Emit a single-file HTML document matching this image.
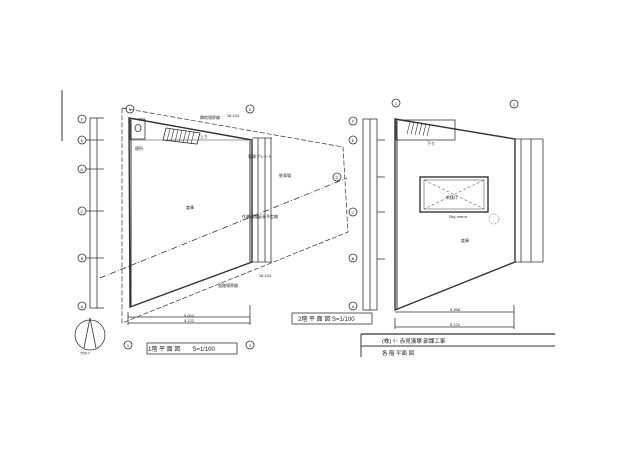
<!DOCTYPE html>
<html><head><meta charset="utf-8"><style>
html,body{margin:0;padding:0;background:#fff;}
svg{display:block;}
text{font-family:"Liberation Sans","Noto Sans CJK JP",sans-serif;fill:#222;}
</style></head><body>
<svg width="640" height="452" viewBox="0 0 640 452" xmlns="http://www.w3.org/2000/svg">
<rect width="640" height="452" fill="#fff"/>
<g stroke="#333" fill="none" stroke-width="0.8">
<!-- margin line -->
<line x1="62" y1="90" x2="62" y2="141" stroke-width="1"/>

<!-- ===== FLOOR 1 ===== -->
<!-- grid circles left -->
<g font-size="5">
<circle cx="82" cy="119" r="4"/><circle cx="82" cy="140" r="4"/><circle cx="82" cy="169" r="4"/>
<circle cx="82" cy="211" r="4"/><circle cx="82" cy="258" r="4"/><circle cx="82" cy="306" r="4"/>
<circle cx="130" cy="109" r="4"/><circle cx="250" cy="109" r="4"/>
<circle cx="128" cy="345" r="4"/><circle cx="250" cy="345" r="4"/>
<circle cx="353" cy="121" r="4"/><circle cx="353" cy="140" r="4"/><circle cx="337" cy="177" r="4"/>
<circle cx="353" cy="212" r="4"/><circle cx="353" cy="258" r="4"/><circle cx="353" cy="306" r="4"/>
</g>
<!-- left dim column -->
<rect x="90" y="118" width="7" height="190"/>
<line x1="97" y1="118" x2="104" y2="118"/><line x1="97" y1="308" x2="104" y2="308"/>
<line x1="86" y1="140" x2="104" y2="140"/><line x1="86" y1="169" x2="104" y2="169"/>
<line x1="86" y1="211" x2="104" y2="211"/><line x1="86" y1="258" x2="104" y2="258"/>
<!-- site dashed -->
<polyline points="122,108 343,147 348,232 122,323 122,108" stroke-dasharray="5,2" stroke-width="0.7"/>
<!-- building -->
<polygon points="129,118 252,140 252,262 130,307" stroke-width="1.4"/>
<line x1="131" y1="120" x2="131" y2="306" stroke-width="1"/>
<line x1="250" y1="141" x2="250" y2="262" stroke-width="1"/>
<line x1="129" y1="140" x2="252" y2="140" stroke-width="0.5"/>
<rect x="130" y="119" width="15" height="20"/>
<ellipse cx="138" cy="128" rx="3" ry="3.5"/>
<!-- stair -->
<polygon points="166,128 200,133 197,144 163,140" stroke-width="0.8"/>
<g stroke-width="0.6">
<line x1="170" y1="129" x2="167" y2="141"/><line x1="174" y1="129" x2="171" y2="141"/>
<line x1="178" y1="130" x2="175" y2="142"/><line x1="182" y1="130" x2="179" y2="142"/>
<line x1="186" y1="131" x2="183" y2="143"/><line x1="190" y1="131" x2="187" y2="143"/>
<line x1="194" y1="132" x2="191" y2="144"/>
</g>
<!-- dash-dot diagonal -->
<line x1="100" y1="278" x2="347" y2="178" stroke-dasharray="6,2,1,2" stroke-width="0.8"/>
<!-- right dims -->
<line x1="258" y1="138" x2="258" y2="262"/><line x1="265" y1="138" x2="265" y2="262"/><line x1="271" y1="138" x2="271" y2="262"/>
<line x1="252" y1="138" x2="272" y2="138"/><line x1="252" y1="262" x2="272" y2="262"/>
<!-- bottom dims -->
<line x1="128" y1="317" x2="250" y2="317"/><line x1="128" y1="323" x2="250" y2="323"/>
<line x1="250" y1="305" x2="250" y2="325"/><line x1="128" y1="312" x2="128" y2="325"/>
<!-- compass -->
<circle cx="90" cy="335" r="15"/>
<polyline points="84,348 90,318 96,348"/>
<!-- title boxes -->
<rect x="147" y="343" width="90" height="11"/>
<rect x="292" y="313" width="80" height="11"/>

<!-- ===== FLOOR 2 ===== -->
<circle cx="396" cy="103" r="4"/><circle cx="514" cy="104" r="4"/>
<circle cx="352" cy="120" r="0"/>
<rect x="363" y="119" width="14" height="191"/>
<line x1="370" y1="119" x2="370" y2="310"/>
<line x1="377" y1="140" x2="385" y2="140"/><line x1="377" y1="177" x2="385" y2="177"/>
<line x1="377" y1="212" x2="385" y2="212"/><line x1="377" y1="259" x2="385" y2="259"/>
<polygon points="395,119 515,139 515,262 395,310" stroke-width="1.4"/>
<line x1="397" y1="121" x2="397" y2="309" stroke-width="1"/>
<rect x="396" y="120" width="59" height="20" stroke-width="0.8"/>
<g stroke-width="0.6">
<line x1="410" y1="122" x2="407" y2="134"/><line x1="414" y1="122" x2="411" y2="134"/>
<line x1="418" y1="123" x2="415" y2="135"/><line x1="422" y1="123" x2="419" y2="135"/>
<line x1="426" y1="124" x2="423" y2="136"/><line x1="430" y1="124" x2="427" y2="136"/>
</g>
<rect x="420" y="177" width="68" height="35" stroke-width="1.4"/>
<rect x="424" y="180" width="60" height="29" stroke-width="0.5"/>
<line x1="424" y1="180" x2="484" y2="209" stroke-dasharray="3,2" stroke-width="0.5"/>
<line x1="484" y1="180" x2="424" y2="209" stroke-dasharray="3,2" stroke-width="0.5"/>
<circle cx="494" cy="219" r="5" stroke-dasharray="1,1" stroke-width="0.5"/>
<line x1="521" y1="139" x2="521" y2="262"/><line x1="531" y1="139" x2="531" y2="262"/><line x1="543" y1="139" x2="543" y2="262"/>
<line x1="515" y1="139" x2="543" y2="139"/><line x1="515" y1="262" x2="543" y2="262"/>
<line x1="395" y1="312" x2="514" y2="312"/><line x1="395" y1="327" x2="514" y2="327"/>
<line x1="514" y1="305" x2="514" y2="329"/><line x1="395" y1="318" x2="395" y2="329"/>
<!-- title block -->
<line x1="361" y1="334" x2="555" y2="334" stroke-width="1.2"/>
<line x1="361" y1="346" x2="555" y2="346" stroke-width="1"/>
<line x1="361" y1="334" x2="361" y2="357" stroke-width="1"/>
</g>
<g font-size="4" text-anchor="middle">
<text x="82" y="121">F</text><text x="82" y="142">E</text><text x="82" y="171">D</text>
<text x="82" y="213">C</text><text x="82" y="260">B</text><text x="82" y="308">A</text>
<text x="130" y="111">1</text><text x="250" y="111">2</text><text x="128" y="347">1</text><text x="250" y="347">2</text>
<text x="353" y="123">F</text><text x="353" y="142">E</text><text x="337" y="179">D</text>
<text x="353" y="214">C</text><text x="353" y="260">B</text><text x="353" y="308">A</text>
<text x="396" y="105">1</text><text x="514" y="106">2</text>
<text x="190" y="209">倉庫</text><text x="465" y="242">倉庫</text>
<text x="210" y="119">隣地境界線</text><text x="233" y="117">16,104</text>
<text x="285" y="177">駐車場</text><text x="228" y="287">道路境界線</text><text x="265" y="277">16,104</text>
<text x="260" y="218">作業通路延長予定線</text><text x="204" y="138">上り</text>
<text x="139" y="150">便所</text><text x="260" y="158">電源プレート</text>
<text x="452" y="199">吹抜け</text><text x="431" y="145">下り</text><text x="458" y="218">Sky mirror</text>
<text x="189" y="317">5,602</text><text x="189" y="322">5,122</text><text x="455" y="311">5,358</text><text x="455" y="326">5,122</text>
</g>
<text x="148" y="351" font-size="6">1階 平 面 図　　S=1/100</text>
<text x="298" y="321" font-size="6">2階 平 面 図 S=1/100</text>
<text x="382" y="343" font-size="5.5">(株) ｲ･ 赤見湊塚 部課工事</text>
<text x="382" y="355" font-size="5.5">各 階 平面 図</text>
<text x="80" y="354" font-size="3">方位1ヶ</text>
</svg>
</body></html>
